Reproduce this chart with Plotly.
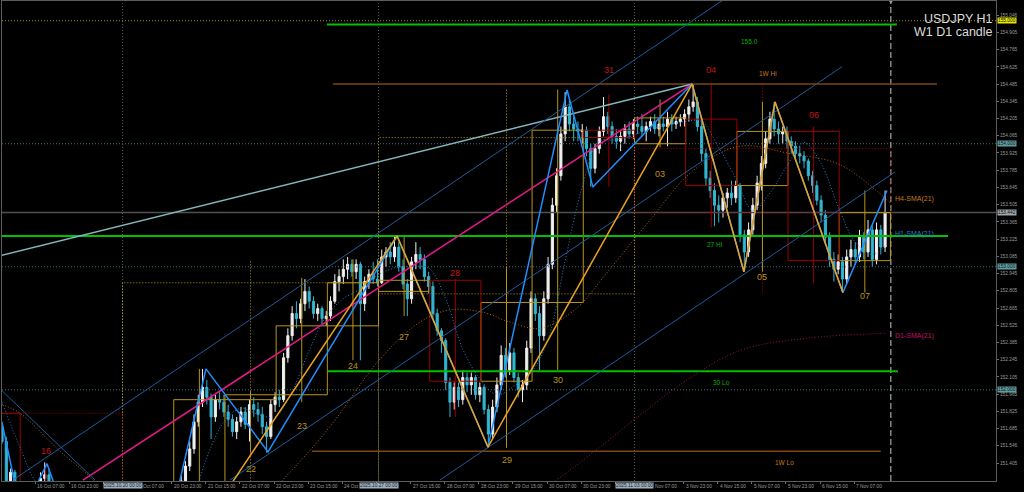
import plotly.graph_objects as go

# USDJPY H1 with the "W1 D1 candle" overlay.
# Time axis is a bar index: one unit = one H1 bar, bar 0 = 15 Oct 2025 15:00
# (weekend hours are skipped, like on the terminal). Candles are drawn two bars each.

opens = [151.70, 151.58, 151.26, 151.33, 151.08, 150.92, 151.00, 151.04, 151.12, 151.16,
         151.28, 151.31, 151.17, 151.00, 150.85, 150.66, 150.48, 150.40, 150.46, 150.18,
         149.80, 149.62, 149.85, 150.02, 150.22, 150.40, 150.55, 150.45, 150.58, 150.66,
         150.74, 150.70, 150.84, 150.90, 150.86, 150.78, 150.88, 150.94, 150.90, 150.84,
         150.92, 151.05, 151.20, 151.26, 151.38, 151.52, 151.74, 151.90, 152.02, 151.94,
         151.78, 151.92, 151.90, 151.82, 151.76, 151.66, 151.74, 151.82, 151.72, 151.88,
         151.84, 151.80, 151.70, 151.62, 151.88, 151.94, 151.92, 152.26, 152.44, 152.62,
         152.58, 152.70, 152.80, 152.72, 152.62, 152.66, 152.58, 152.60, 152.72, 152.88,
         152.92, 152.98, 153.02, 152.96, 153.02, 152.70, 152.88, 152.94, 152.90, 152.87,
         153.08, 153.12, 153.08, 153.16, 153.00, 152.86, 152.74, 153.04, 153.10, 153.06,
         152.92, 152.84, 152.62, 152.48, 152.40, 152.06, 151.90, 152.02, 151.92, 152.10,
         152.04, 152.10, 151.96, 152.02, 151.84, 151.64, 151.86, 152.04, 152.28, 152.16,
         152.30, 152.10, 152.00, 152.04, 152.34, 152.74, 152.62, 152.44, 152.74, 153.02,
         153.50, 153.74, 154.08, 154.30, 154.16, 154.12, 154.10, 154.11, 153.96, 153.80,
         153.96, 154.10, 154.22, 154.14, 154.06, 154.02, 154.06, 154.12, 154.08, 154.16,
         154.14, 154.10, 154.14, 154.18, 154.12, 154.16, 154.14, 154.20, 154.16, 154.18,
         154.20, 154.24, 154.30, 154.34, 154.14, 153.92, 153.72, 153.62, 153.50, 153.46,
         153.56, 153.60, 153.56, 153.66, 153.26, 153.12, 153.30, 153.50, 153.68, 153.84,
         154.04, 154.20, 154.12, 154.08, 154.10, 154.02, 153.98, 153.92, 153.90, 153.86,
         153.74, 153.66, 153.54, 153.42, 153.24, 153.06, 152.98, 153.04, 152.90, 153.08,
         153.14, 153.08, 153.24, 153.12, 153.30, 153.06, 153.30, 153.16]
highs = [151.74, 151.62, 151.36, 151.35, 151.12, 151.04, 151.10, 151.18, 151.22, 151.33,
         151.41, 151.36, 151.22, 151.05, 150.92, 150.75, 150.60, 150.55, 150.52, 150.25,
         149.95, 149.90, 150.10, 150.30, 150.50, 150.65, 150.70, 150.62, 150.72, 150.80,
         150.85, 150.90, 150.98, 151.02, 150.95, 150.92, 151.00, 151.05, 151.00, 150.96,
         151.10, 151.24, 151.30, 151.42, 151.58, 151.80, 151.96, 152.17, 152.08, 151.97,
         151.96, 151.98, 151.96, 151.88, 151.80, 151.78, 151.86, 151.86, 151.92, 151.94,
         151.90, 151.86, 151.74, 151.92, 151.98, 152.00, 152.30, 152.50, 152.68, 152.72,
         152.74, 152.90, 152.84, 152.76, 152.70, 152.68, 152.64, 152.76, 152.94, 152.98,
         153.06, 153.08, 153.06, 153.06, 153.04, 152.92, 152.98, 153.04, 153.06, 153.14,
         153.16, 153.20, 153.25, 153.20, 153.06, 152.90, 153.08, 153.20, 153.16, 153.10,
         152.96, 152.88, 152.66, 152.50, 152.42, 152.10, 152.06, 152.06, 152.16, 152.14,
         152.14, 152.12, 152.06, 152.04, 151.88, 151.92, 152.10, 152.36, 152.34, 152.38,
         152.34, 152.14, 152.08, 152.40, 152.80, 152.78, 152.68, 152.80, 153.08, 153.56,
         153.80, 154.14, 154.42, 154.36, 154.22, 154.18, 154.16, 154.14, 154.00, 154.00,
         154.14, 154.38, 154.26, 154.18, 154.12, 154.10, 154.16, 154.18, 154.20, 154.22,
         154.24, 154.18, 154.22, 154.24, 154.20, 154.22, 154.26, 154.24, 154.22, 154.24,
         154.28, 154.36, 154.48, 154.38, 154.18, 153.96, 153.78, 153.68, 153.58, 153.60,
         153.64, 153.70, 153.70, 153.68, 153.30, 153.36, 153.56, 153.74, 153.90, 154.10,
         154.26, 154.34, 154.18, 154.14, 154.14, 154.06, 154.02, 153.98, 153.94, 153.88,
         153.78, 153.70, 153.58, 153.46, 153.28, 153.12, 153.10, 153.08, 153.14, 153.22,
         153.20, 153.30, 153.28, 153.38, 153.34, 153.36, 153.34, 153.62]
lows = [151.56, 151.22, 151.20, 151.05, 150.86, 150.82, 150.92, 150.98, 151.02, 151.10,
        151.22, 151.12, 150.96, 150.80, 150.60, 150.40, 150.30, 150.28, 150.10, 149.70,
        149.37, 149.55, 149.78, 149.95, 150.15, 150.30, 150.38, 150.40, 150.50, 150.60,
        150.62, 150.66, 150.76, 150.80, 150.70, 150.72, 150.82, 150.85, 150.78, 150.76,
        150.88, 151.00, 151.12, 151.22, 151.34, 151.48, 151.70, 151.86, 151.88, 151.60,
        151.74, 151.84, 151.78, 151.70, 151.62, 151.60, 151.70, 151.68, 151.58, 151.78,
        151.74, 151.64, 151.49, 151.60, 151.82, 151.86, 151.90, 152.22, 152.40, 152.50,
        152.54, 152.64, 152.66, 152.58, 152.56, 152.54, 152.52, 152.56, 152.70, 152.80,
        152.86, 152.90, 152.92, 152.90, 152.24, 152.64, 152.82, 152.86, 152.84, 152.86,
        153.00, 153.02, 153.04, 152.96, 152.82, 152.60, 152.70, 152.98, 152.98, 152.88,
        152.78, 152.58, 152.44, 152.30, 152.00, 151.78, 151.84, 151.86, 151.88, 151.98,
        151.96, 151.92, 151.90, 151.80, 151.53, 151.60, 151.82, 152.00, 152.10, 152.12,
        152.06, 151.94, 151.90, 152.00, 152.30, 152.56, 152.16, 152.40, 152.70, 152.98,
        153.44, 153.70, 154.02, 154.10, 154.02, 154.02, 154.00, 153.90, 153.65, 153.76,
        153.92, 154.06, 154.08, 154.00, 153.96, 153.94, 154.00, 154.04, 154.04, 154.08,
        154.06, 154.02, 154.10, 154.08, 154.06, 154.10, 153.98, 154.10, 154.12, 154.14,
        154.14, 154.18, 154.26, 154.10, 153.86, 153.66, 153.56, 153.33, 153.36, 153.40,
        153.48, 153.50, 153.52, 153.20, 152.96, 153.08, 153.26, 153.46, 153.62, 153.80,
        154.00, 154.06, 154.00, 154.00, 153.96, 153.92, 153.86, 153.84, 153.80, 153.70,
        153.60, 153.50, 153.36, 153.18, 153.00, 152.88, 152.94, 152.79, 152.86, 153.00,
        153.02, 153.04, 153.06, 153.08, 153.00, 153.02, 153.10, 153.12]
closes = [151.58, 151.26, 151.33, 151.08, 150.92, 151.00, 151.04, 151.12, 151.16, 151.28,
          151.31, 151.17, 151.00, 150.85, 150.66, 150.48, 150.40, 150.46, 150.18, 149.80,
          149.62, 149.85, 150.02, 150.22, 150.40, 150.55, 150.45, 150.58, 150.66, 150.74,
          150.70, 150.84, 150.90, 150.86, 150.78, 150.88, 150.94, 150.90, 150.84, 150.92,
          151.05, 151.20, 151.26, 151.38, 151.52, 151.74, 151.90, 152.02, 151.94, 151.78,
          151.92, 151.90, 151.82, 151.76, 151.66, 151.74, 151.82, 151.72, 151.88, 151.84,
          151.80, 151.70, 151.62, 151.88, 151.94, 151.92, 152.26, 152.44, 152.62, 152.58,
          152.70, 152.80, 152.72, 152.62, 152.66, 152.58, 152.60, 152.72, 152.88, 152.92,
          152.98, 153.02, 152.96, 153.02, 152.70, 152.88, 152.94, 152.90, 152.87, 153.08,
          153.12, 153.08, 153.16, 153.00, 152.86, 152.74, 153.04, 153.10, 153.06, 152.92,
          152.84, 152.62, 152.48, 152.40, 152.06, 151.90, 152.02, 151.92, 152.10, 152.04,
          152.10, 151.96, 152.02, 151.84, 151.64, 151.86, 152.04, 152.28, 152.16, 152.30,
          152.10, 152.00, 152.04, 152.34, 152.74, 152.62, 152.44, 152.74, 153.02, 153.50,
          153.74, 154.08, 154.30, 154.16, 154.12, 154.10, 154.11, 153.96, 153.80, 153.96,
          154.10, 154.22, 154.14, 154.06, 154.02, 154.06, 154.12, 154.08, 154.16, 154.14,
          154.10, 154.14, 154.18, 154.12, 154.16, 154.14, 154.20, 154.16, 154.18, 154.20,
          154.24, 154.30, 154.34, 154.14, 153.92, 153.72, 153.62, 153.50, 153.46, 153.56,
          153.60, 153.56, 153.66, 153.26, 153.12, 153.30, 153.50, 153.68, 153.84, 154.04,
          154.20, 154.12, 154.08, 154.10, 154.02, 153.98, 153.92, 153.90, 153.86, 153.74,
          153.66, 153.54, 153.42, 153.24, 153.06, 152.98, 153.04, 152.90, 153.08, 153.14,
          153.08, 153.24, 153.12, 153.30, 153.06, 153.30, 153.16, 153.44]

# time axis labels (tick every 16 bars); parts hidden behind the separator tags are left out
time_tick_bar = [0, 16, 32, 64, 80, 96, 112, 128, 144, 160, 192, 208, 224, 240, 256, 272,
                 304, 320, 336, 352, 368, 384, 400]
time_tick_text = ["15 Oct 2025", "16 Oct 07:00", "16 Oct 23:00", "Oct 07:00", "20 Oct 23:00",
                  "21 Oct 15:00", "22 Oct 07:00", "22 Oct 23:00", "23 Oct 15:00", "24 Oct",
                  "27 Oct 15:00", "28 Oct 07:00", "28 Oct 23:00", "29 Oct 15:00", "30 Oct 07:00",
                  "30 Oct 23:00", "Nov 07:00", "3 Nov 23:00", "4 Nov 15:00", "5 Nov 07:00",
                  "5 Nov 23:00", "6 Nov 15:00", "7 Nov 07:00"]
time_tick_shift = [0, 0, 0, 3, 0, 0, 0, 0, 0, 0, 0, 0, 0, 0, 0, 0, 4, 0, 0, 0, 0, 0, 0]
axis_tick_bar = list(range(0, 401, 16))
week_sep_bar = [57, 177, 297]
week_sep_text = ["2025.10.20 00:00", "2025.10.27 00:00", "2025.11.03 00:00"]
shift_bar = 417.2

price_ticks = [155.046, 154.905, 154.765, 154.625, 154.485, 154.345, 154.205, 154.065, 153.925,
               153.785, 153.645, 153.505, 153.365, 153.225, 153.085, 152.945, 152.805, 152.665,
               152.525, 152.385, 152.245, 152.105, 151.965, 151.825, 151.685, 151.546, 151.405]
bid_price = 153.442
round_levels = [154.0, 153.0, 152.0]
top_level = 155.0

# D1 candles of the overlay (start bar of each day, 24 bars wide)
day_start = [-15, 9, 33, 57, 81, 105, 129, 153, 177, 201, 225, 249, 273, 297, 321, 345, 369, 393]
day_name = ["15", "16", "17", "20", "21", "22", "23", "24", "27", "28", "29", "30", "31",
            "03", "04", "05", "06", "07"]
d_open = [151.81, 151.05, 150.40, 150.62, 150.75, 151.92, 151.96, 152.52, 152.80, 152.89,
          152.07, 152.71, 154.11, 154.00, 154.20, 153.66, 154.10, 153.05]
d_high = [151.95, 151.40, 150.95, 150.90, 152.17, 151.99, 152.91, 153.06, 153.25, 152.90,
          153.00, 154.44, 154.40, 154.36, 154.485, 154.34, 154.14, 153.62]
d_low = [150.95, 150.30, 149.37, 150.50, 150.70, 151.49, 151.90, 152.24, 152.60, 151.78,
         151.53, 152.16, 153.65, 153.97, 153.32, 152.96, 152.87, 152.79]
d_close = [151.05, 150.40, 150.60, 150.75, 151.92, 151.96, 152.52, 152.87, 152.89, 152.07,
           152.71, 154.11, 154.05, 154.21, 153.66, 154.10, 153.05, 153.44]
day_label_price = [None, 151.50, None, None, None, 151.36, 151.71, 152.19, 152.43, 152.95,
                   151.43, 152.08, 154.60, 153.75, 154.60, 152.92, 154.23, 152.76]

# W1 candles (dotted, 120 bars wide)
week_start = [-63, 57, 177, 297]
w_open = [151.81, 150.62, 152.78, 153.96]
w_high = [152.40, 153.06, 154.44, 154.485]
w_low = [149.37, 150.50, 151.53, 152.79]
w_close = [150.60, 152.87, 154.05, 153.44]

# horizontal levels
green_price = [154.97, 153.25, 152.15]
green_from = [152.8, 0.0, 153.3]
green_to = [420.0, 444.0, 420.5]
green_text = ["155.0", "27 Hi", "30 Lo"]
green_text_bar = [351.0, 334.7, 338.0]
green_text_price = [154.83, 153.18, 152.06]

week_range_price = [154.485, 151.50]
week_range_from = [155.6, 145.8]
week_range_to = [438.8, 412.5]
week_range_text = ["1W Hi", "1W Lo"]
week_range_text_bar = [359.6, 367.5]
week_range_text_price = [154.57, 151.41]

# trend lines and channel
teal_bar = [-0.5, 324.0]
teal_price = [153.09, 154.485]
pink_bar = [38.4, 324.0]
pink_price = [151.267, 154.485]
channel_bar = [[5.6, 338.5], [107.4, 394.3], [205.8, 419.1], [0.0, 44.1]]
channel_price = [[151.267, 155.168], [151.267, 154.626], [151.267, 153.77], [152.00, 151.267]]

# zigzags
blue_zig_bar = [0.47, 9.66, 21.57, 60.2, 96.1, 125.2, 185.7, 228.3, 265.4, 277.5, 324.0,
                348.3, 362.9, 394.7, 415.4]
blue_zig_price = [151.735, 150.98, 151.40, 149.51, 152.17, 151.495, 153.25, 151.535, 154.437,
                  153.648, 154.485, 152.96, 154.34, 152.79, 153.62]
gold_zig_bar = [36.0, 185.7, 228.3, 324.0, 348.3, 362.9, 394.7]
gold_zig_price = [149.37, 153.25, 151.535, 154.485, 152.96, 154.34, 152.79]

# moving averages
sma_h1_bar = [0.5, 8.5, 16.5, 24.5, 32.5, 40.5, 48.5, 56.5, 64.5, 72.5, 80.5, 88.5, 96.5,
              104.5, 112.5, 120.5, 128.5, 136.5, 144.5, 152.5, 160.5, 168.5, 176.5, 184.5,
              192.5, 200.5, 208.5, 216.5, 224.5, 232.5, 240.5, 248.5, 256.5, 264.5, 272.5,
              280.5, 288.5, 296.5, 304.5, 312.5, 320.5, 328.5, 336.5, 344.5, 352.5, 360.5,
              368.5, 376.5, 384.5, 392.5, 400.5, 408.5, 414.5]
sma_h1 = [151.90, 151.55, 151.25, 151.15, 150.85, 150.45, 150.15, 150.25, 150.55, 150.80,
          150.88, 151.05, 151.45, 151.74, 151.85, 151.80, 151.78, 151.99, 152.32, 152.60,
          152.74, 152.82, 152.93, 152.99, 153.00, 152.99, 152.74, 152.33, 152.09, 151.96,
          152.03, 152.14, 152.41, 153.05, 153.65, 154.02, 154.03, 154.07, 154.12, 154.15,
          154.18, 154.18, 153.97, 153.72, 153.46, 153.60, 153.82, 154.01, 153.84, 153.49,
          153.20, 153.10, 153.17]
sma_h4_bar = [0.5, 8.9, 27.7, 43.1, 70.0, 100.0, 132.2, 154.2, 177.7, 196.4, 210.5, 226.0,
              238.6, 252.7, 269.0, 284.0, 302.9, 324.4, 346.5, 369.9, 393.3, 416.8]
sma_h4 = [151.88, 151.81, 151.50, 151.27, 150.75, 150.72, 151.27, 151.70, 152.25, 152.55,
          152.65, 152.63, 152.55, 152.50, 152.65, 152.95, 153.35, 153.78, 153.98, 153.92,
          153.83, 153.52]
sma_d1_bar = [225.0, 260.7, 284.1, 296.3, 321.6, 346.5, 377.9, 415.4]
sma_d1 = [150.85, 151.27, 151.58, 151.75, 152.08, 152.32, 152.42, 152.46]

X_RANGE = [0.47, 466.5]
Y_RANGE = [151.259, 155.160]
FONT = "Liberation Sans"
GOLD = "#b8941a"
RED = "#9a0000"

fig = go.Figure()


def line(x, y, color, width=1.0, dash=None, shape="linear"):
    fig.add_trace(go.Scatter(x=x, y=y, mode="lines", hoverinfo="skip",
                             line=dict(color=color, width=width, dash=dash, shape=shape)))


def rects(starts, span, o, c, bull):
    xs, ys = [], []
    for s, a, b in zip(starts, o, c):
        if (b >= a) == bull:
            xs += [s, s + span, s + span, s, s, None]
            ys += [a, a, b, b, a, None]
    return xs, ys


def sticks(starts, span, o, c, hi, lo, bull):
    xs, ys = [], []
    for s, a, b, h, l in zip(starts, o, c, hi, lo):
        if (b >= a) == bull:
            xs += [s + span / 2, s + span / 2, None]
            ys += [l, h, None]
    return xs, ys


fig.add_trace(go.Candlestick(
    x=[2 * k + 0.5 for k in range(len(opens))],
    open=opens, high=highs, low=lows, close=closes,
    increasing=dict(line=dict(color="#f0f0f0", width=1), fillcolor="#f0f0f0"),
    decreasing=dict(line=dict(color="#33b5d1", width=1), fillcolor="#33b5d1"),
    whiskerwidth=0, hoverinfo="skip"))

# grid-like objects
for p in round_levels:
    line(X_RANGE, [p, p], "#3f7378", 1, "1px,2px")
line(X_RANGE, [top_level, top_level], "#a08c1e", 1, "1px,2px")
for b in week_sep_bar:
    line([b, b], Y_RANGE, "#5a5a5a", 1, "1px,2px")
line([shift_bar, shift_bar], Y_RANGE, "#c8c8c8", 1, "6px,3px")
line(X_RANGE, [bid_price, bid_price], "#505050", 1.5)
fig.add_trace(go.Scatter(x=[shift_bar], y=[Y_RANGE[1]], mode="markers", cliponaxis=False,
                         hoverinfo="skip",
                         marker=dict(symbol="triangle-down", size=5, color="#9a9a9a")))

# W1 candles, dotted
for bull, col in ((True, GOLD), (False, "#b00000")):
    xs, ys = rects(week_start, 120, w_open, w_close, bull)
    line(xs, ys, col, 1, "1px,2px")
    xs, ys = sticks(week_start, 120, w_open, w_close, w_high, w_low, bull)
    line(xs, ys, col, 1, "1px,2px")

# D1 candles
for bull, col in ((True, GOLD), (False, RED)):
    xs, ys = sticks(day_start, 24, d_open, d_close, d_high, d_low, bull)
    line(xs, ys, col, 1)
    xs, ys = rects(day_start, 24, d_open, d_close, bull)
    line(xs, ys, col, 1)

# levels
for p, a, b in zip(green_price, green_from, green_to):
    line([a, b], [p, p], "#00c000", 2)
for p, a, b in zip(week_range_price, week_range_from, week_range_to):
    line([a, b], [p, p], "#7a4612", 1.5)

# trend lines
line(teal_bar, teal_price, "#84b6bd", 1.5)
line(pink_bar, pink_price, "#e8198b", 1.5)
for xb, yp in zip(channel_bar, channel_price):
    line(xb, yp, "#1d5c9c", 1)

# moving averages
line(sma_h1_bar, sma_h1, "#2a7fd0", 1, "1px,2px", "spline")
line(sma_h4_bar, sma_h4, "#b8641e", 1, "1px,2px", "spline")
line(sma_d1_bar, sma_d1, "#a0105e", 1, "1px,2px", "spline")

# zigzags
line(blue_zig_bar, blue_zig_price, "#1e8fff", 1.5)
line(gold_zig_bar, gold_zig_price, "#eba21e", 1.5)

ann = []


def text(x, y, s, color, size, xanchor="center", **kw):
    ann.append(dict(x=x, y=y, text=s, showarrow=False, xanchor=xanchor,
                    font=dict(family=FONT, size=size, color=color), **kw))


for s, p, o, c, name in zip(day_start, day_label_price, d_open, d_close, day_name):
    if p is not None:
        text(s + 12, p, name, GOLD if c >= o else "#c81414", 9)
for s, b, p in zip(green_text, green_text_bar, green_text_price):
    text(b, p, s, "#00b400", 6.5)
for s, b, p in zip(week_range_text, week_range_text_bar, week_range_text_price):
    text(b, p, s, "#c87a1e", 6.5)
text(418, sma_h4[-1] + 0.03, "H4-SMA(21)", "#c87a1e", 7, "left")
text(418, 153.27, "H1-SMA(21)", "#2a7fd0", 7, "left")
text(418, sma_d1[-1] - 0.02, "D1-SMA(21)", "#c0106a", 7, "left")

# time axis labels
for b, s, sh in zip(time_tick_bar, time_tick_text, time_tick_shift):
    text(b, 0, s, "#9c9c9c", 4.8, "left", yref="paper", yanchor="top", yshift=-1, xshift=sh)
for b, s in zip(week_sep_bar, week_sep_text):
    text(b, 0, s, "#1c1c1c", 4.8, "center", yref="paper", yanchor="top", yshift=-1,
         bgcolor="#9fb0bf", borderpad=0)

# price axis highlighted labels
for p, bg in ((top_level, "#e6e600"), (round_levels[0], "#5f9ea0"), (bid_price, "#a0a6aa"),
              (round_levels[1], "#5f9ea0"), (round_levels[2], "#5f9ea0")):
    text(1, p, f"{p:.3f}", "#101010", 4.8, "left", xref="paper", xshift=1, bgcolor=bg, borderpad=0)

text(1, 0.981, "USDJPY H1", "#dcdcdc", 12.5, "right", xref="paper", yref="paper", xshift=-1)
text(1, 0.954, "W1 D1 candle", "#dcdcdc", 12.5, "right", xref="paper", yref="paper", xshift=-1)

fig.update_layout(
    width=1024, height=492,
    margin=dict(l=2, r=28, t=1, b=11),
    paper_bgcolor="black", plot_bgcolor="black",
    showlegend=False, hovermode=False,
    annotations=ann,
    xaxis=dict(range=X_RANGE, rangeslider=dict(visible=False), showgrid=False, zeroline=False,
               tickvals=axis_tick_bar, ticks="outside", ticklen=2, tickcolor="#707070",
               showticklabels=False, showline=True, linecolor="#5c5c5c", mirror=True),
    yaxis=dict(range=Y_RANGE, side="right", showgrid=False, zeroline=False,
               tickvals=price_ticks, ticktext=[f"{v:.3f}" for v in price_ticks],
               ticks="outside", ticklen=2, tickcolor="#707070",
               tickfont=dict(family=FONT, size=4.8, color="#9c9c9c"),
               showline=True, linecolor="#5c5c5c", mirror=True),
)

fig.write_html("out.html", config={"displayModeBar": False},
               post_script="document.body.style.margin='0';document.body.style.overflow='hidden';")
